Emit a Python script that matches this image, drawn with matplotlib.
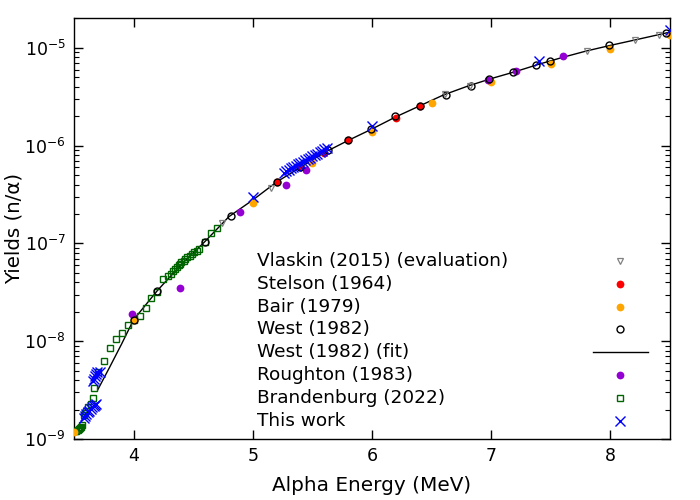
import matplotlib
matplotlib.use("Agg")
import matplotlib.pyplot as plt
import numpy as np
from matplotlib.ticker import FixedLocator, LogLocator, NullFormatter, LogFormatterSciNotation

plt.rcParams['font.family'] = ['DejaVu Sans']

# ---------------- data ----------------
vlaskin_x = [4.74, 5.15, 6.61, 6.82, 7.80, 8.21, 8.41]
vlaskin_y = [1.60e-7, 3.66e-7, 3.35e-6, 4.05e-6, 9.27e-6, 1.21e-5, 1.36e-5]

stelson_x = [5.20, 5.40, 5.60, 5.80, 6.20, 6.40]
stelson_y = [4.25e-7, 6.00e-7, 8.40e-7, 1.13e-6, 1.94e-6, 2.55e-6]

bair_x = [3.50, 4.00, 5.00, 5.50, 6.00, 6.50, 7.00, 7.50, 8.00, 8.50]
bair_y = [1.17e-9, 1.66e-8, 2.60e-7, 6.70e-7, 1.38e-6, 2.70e-6, 4.52e-6, 6.90e-6, 9.80e-6, 1.34e-5]

west_x = [4.00, 4.20, 4.60, 4.82, 5.20, 5.40, 5.63, 5.80, 5.99, 6.19, 6.40, 6.62,
          6.83, 6.98, 7.18, 7.38, 7.49, 7.99, 8.47]
west_y = [1.66e-8, 3.30e-8, 1.04e-7, 1.91e-7, 4.25e-7, 6.00e-7, 9.00e-7, 1.13e-6,
          1.48e-6, 2.00e-6, 2.55e-6, 3.33e-6, 4.10e-6, 4.85e-6, 5.66e-6, 6.75e-6,
          7.40e-6, 1.06e-5, 1.43e-5]

fit_x = [3.70, 3.80, 3.90, 4.00, 4.20, 4.40, 4.60, 4.80, 5.00, 5.20, 5.40, 5.60,
         5.80, 6.00, 6.20, 6.40, 6.60, 6.80, 7.00, 7.20, 7.40, 7.60, 7.80, 8.00,
         8.20, 8.40, 8.50]
fit_y = [3.20e-9, 5.45e-9, 9.40e-9, 1.66e-8, 3.30e-8, 6.10e-8, 1.05e-7, 1.88e-7,
         2.78e-7, 4.25e-7, 6.00e-7, 8.50e-7, 1.13e-6, 1.48e-6, 1.97e-6, 2.55e-6,
         3.30e-6, 4.05e-6, 4.85e-6, 5.70e-6, 6.80e-6, 8.00e-6, 9.30e-6, 1.06e-5,
         1.20e-5, 1.36e-5, 1.45e-5]

roughton_x = [3.986, 4.389, 4.893, 5.275, 5.443, 6.969, 7.21, 7.60]
roughton_y = [1.91e-8, 3.49e-8, 2.08e-7, 3.93e-7, 5.70e-7, 4.74e-6, 5.75e-6, 8.30e-6]

brand_x = [3.51, 3.52, 3.53, 3.54, 3.55, 3.56, 3.57, 3.58, 3.59, 3.60, 3.62, 3.64,
           3.66, 3.67, 3.70, 3.75, 3.80, 3.85, 3.90, 3.95, 4.00, 4.05, 4.10, 4.15,
           4.20, 4.25, 4.29, 4.31, 4.33, 4.35, 4.36, 4.38, 4.39, 4.40, 4.42, 4.43,
           4.45, 4.47, 4.49, 4.51, 4.53, 4.55, 4.60, 4.65, 4.70]
brand_y = [1.20e-9, 1.22e-9, 1.25e-9, 1.27e-9, 1.30e-9, 1.33e-9, 1.38e-9, 1.75e-9,
           1.85e-9, 1.95e-9, 2.10e-9, 2.30e-9, 2.60e-9, 3.35e-9, 4.80e-9, 6.30e-9,
           8.50e-9, 1.05e-8, 1.21e-8, 1.46e-8, 1.66e-8, 1.82e-8, 2.20e-8, 2.76e-8,
           3.20e-8, 4.30e-8, 4.60e-8, 4.90e-8, 5.20e-8, 5.45e-8, 5.70e-8, 5.95e-8,
           6.20e-8, 6.40e-8, 6.60e-8, 6.90e-8, 7.20e-8, 7.50e-8, 7.80e-8, 8.10e-8,
           8.40e-8, 8.70e-8, 1.03e-7, 1.27e-7, 1.43e-7]

this_x = [3.580, 3.592, 3.604, 3.616, 3.628, 3.640, 3.652, 3.664, 3.676, 3.686,
          3.658, 3.670, 3.678, 3.686, 3.697, 3.714,
          5.00,
          5.26, 5.28, 5.30, 5.32, 5.34, 5.36, 5.38, 5.40, 5.42, 5.44, 5.46, 5.48,
          5.50, 5.52, 5.54, 5.56, 5.58, 5.60, 5.62,
          6.00, 7.40, 8.50]
this_y = [1.64e-9, 1.72e-9, 1.80e-9, 1.88e-9, 1.95e-9, 2.02e-9, 2.10e-9, 2.18e-9,
          2.25e-9, 2.30e-9,
          3.90e-9, 4.10e-9, 4.40e-9, 4.65e-9, 4.80e-9, 4.90e-9,
          3.00e-7,
          5.30e-7, 5.45e-7, 5.65e-7, 5.85e-7, 6.05e-7, 6.25e-7, 6.45e-7, 6.65e-7,
          6.85e-7, 7.05e-7, 7.30e-7, 7.55e-7, 7.80e-7, 8.05e-7, 8.30e-7, 8.60e-7,
          8.90e-7, 9.15e-7, 9.40e-7,
          1.59e-6, 7.40e-6, 1.53e-5]

labels = ["Vlaskin (2015) (evaluation)", "Stelson (1964)", "Bair (1979)",
          "West (1982)", "West (1982) (fit)", "Roughton (1983)",
          "Brandenburg (2022)", "This work"]

# ---------------- styles ----------------
C_GRAY = "#808080"
C_RED = "#ff0000"
C_ORANGE = "#ffa500"
C_PURPLE = "#9400d3"
C_GREEN = "#006400"
C_BLUE = "#0000ff"

styles = [
    dict(marker='v', ms=5, mfc='none', mec=C_GRAY, mew=0.9, ls='none'),
    dict(marker='o', ms=5.6, mfc=C_RED, mec=C_RED, mew=0, ls='none'),
    dict(marker='o', ms=5.6, mfc=C_ORANGE, mec=C_ORANGE, mew=0, ls='none'),
    dict(marker='o', ms=5.0, mfc='none', mec='black', mew=1.0, ls='none'),
    dict(color='black', lw=1.0, ls='-', marker=None),
    dict(marker='o', ms=5.6, mfc=C_PURPLE, mec=C_PURPLE, mew=0, ls='none'),
    dict(marker='s', ms=5.0, mfc='none', mec=C_GREEN, mew=1.0, ls='none'),
    dict(marker='x', ms=7, mec=C_BLUE, mew=1.0, ls='none'),
]

fig = plt.figure(figsize=(7, 5), dpi=100)
ax = fig.add_axes([74/700, 61/500, 596/700, 421/500])

series = [
    (vlaskin_x, vlaskin_y), (stelson_x, stelson_y), (bair_x, bair_y),
    (west_x, west_y), (fit_x, fit_y), (roughton_x, roughton_y),
    (brand_x, brand_y), (this_x, this_y),
]
order = [4, 6, 2, 1, 5, 3, 0, 7]
for i in order:
    x, y = series[i]
    ax.plot(x, y, zorder=2 + order.index(i), clip_on=True, **styles[i])

ax.set_yscale('log')
ax.set_xlim(3.5, 8.5)
ax.set_ylim(1e-9, 2.02e-5)
ax.xaxis.set_major_locator(FixedLocator([4, 5, 6, 7, 8]))
ax.yaxis.set_major_locator(LogLocator(base=10, numticks=20))
ax.yaxis.set_minor_locator(LogLocator(base=10, subs=np.arange(2, 10), numticks=20))
ax.yaxis.set_minor_formatter(NullFormatter())
ax.yaxis.set_major_formatter(LogFormatterSciNotation())

ax.tick_params(which='both', direction='in', top=True, right=True, labelsize=12.5)
ax.tick_params(which='major', length=6.5, width=1.0, pad=6)
ax.tick_params(which='minor', length=3.6, width=0.8)
for s in ax.spines.values():
    s.set_linewidth(1.0)

ax.set_xlabel("Alpha Energy (MeV)", fontsize=14.4, labelpad=7.5)
ax.set_ylabel("Yields (n/\u03b1)", fontsize=14.2)
ax.yaxis.set_label_coords((24 - 74) / 596, 0.5)

# ---------------- key (gnuplot style) ----------------
text_x = (257 - 74) / 596
mark_x = (620 - 74) / 596
line_x0 = (593 - 74) / 596
line_x1 = (648 - 74) / 596
row0 = (439 - 260.7) / 421
dy = 22.9 / 421
for i, lab in enumerate(labels):
    yy = row0 - i * dy
    ax.text(text_x, yy, lab, transform=ax.transAxes, fontsize=13.3,
            ha='left', va='center')
    if i == 4:
        ax.plot([line_x0, line_x1], [yy, yy], transform=ax.transAxes,
                clip_on=False, **styles[i])
    else:
        ax.plot([mark_x], [yy], transform=ax.transAxes, clip_on=False,
                **styles[i])

fig.savefig("out.png", dpi=100)
